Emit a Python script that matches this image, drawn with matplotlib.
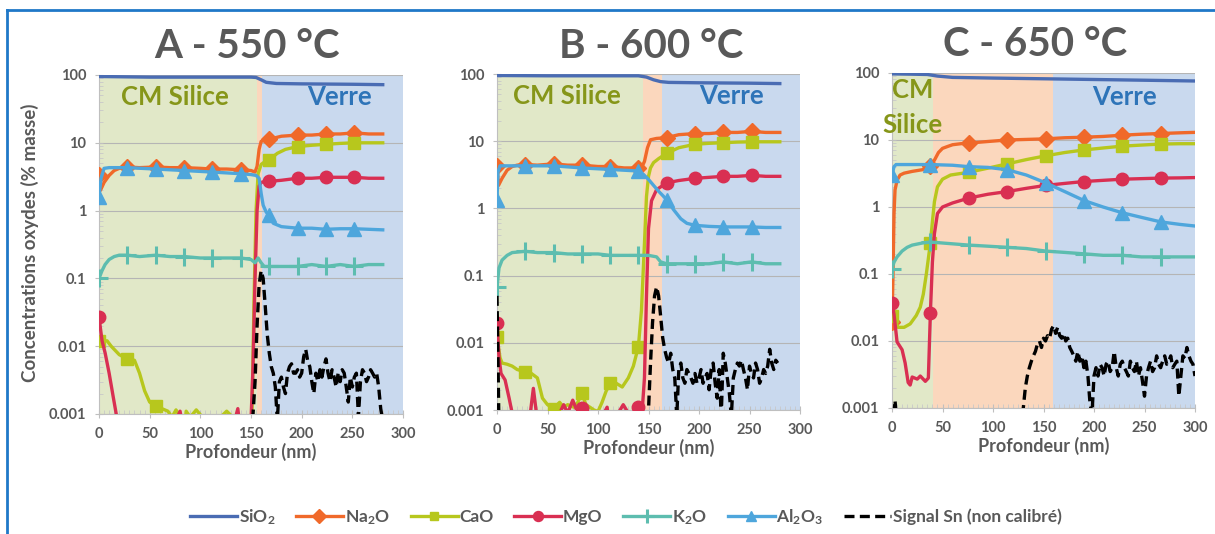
import numpy as np
import matplotlib.pyplot as plt
from matplotlib.lines import Line2D
from matplotlib.ticker import FixedLocator, LogLocator, NullFormatter, MultipleLocator

plt.rcParams['font.family'] = ['Lato', 'DejaVu Sans']
plt.rcParams['font.weight'] = 'bold'
plt.rcParams['mathtext.fontset'] = 'custom'
plt.rcParams['mathtext.rm'] = 'Lato:bold'
plt.rcParams['mathtext.bf'] = 'Lato:bold'
plt.rcParams['mathtext.default'] = 'bf'

# ---------------- data : panel A (550 °C) ----------------
a_sio2_x = [0, 50, 100, 150, 155, 160, 165, 175, 200, 250, 280]
a_sio2_y = [95, 93, 93, 93, 92, 85, 78, 75, 74, 73, 72]
a_na2o_x = [0, 1.5, 5, 10, 15, 20, 28, 40, 56, 70, 84, 100, 112, 126, 140, 150, 154, 156, 158, 160,
            164, 168, 180, 196, 210, 224, 238, 252, 266, 280]
a_na2o_y = [3.4, 2.0, 2.6, 3.3, 3.9, 4.2, 4.4, 4.3, 4.4, 4.3, 4.3, 4.2, 4.1, 4.1, 4.0, 3.9, 3.7, 4.5, 8, 10.5,
            11, 11.3, 12.5, 13, 13, 13.5, 13.5, 14, 13.5, 13.5]
a_cao_x = [0, 8, 12, 20, 28, 35, 40, 45, 50, 56, 62, 68, 72, 76, 80, 84, 86, 90, 96, 102, 108, 112, 120,
           126, 132, 138, 140, 148, 151, 153, 155, 157, 160, 164, 168, 176, 184, 196, 210, 224, 238, 252, 266, 280]
a_cao_y = [0.012, 0.012, 0.01, 0.0075, 0.0065, 0.0062, 0.004, 0.0022, 0.0015, 0.0013, 0.0012, 0.0011, 0.0009,
           0.00115, 0.0009, 0.0005, 0.0011, 0.0009, 0.00115, 0.0009, 0.0009, 0.0005, 0.0009, 0.0011, 0.0009,
           0.0009, 0.0005, 0.0009, 0.001, 0.05, 1.0, 3.5, 4.8, 5.3, 5.6, 7, 8, 8.8, 9.2, 9.5, 9.8, 10, 10, 10]
a_mgo_x = [0, 3, 6, 10, 14, 17, 20, 28, 56, 76, 80, 84, 112, 134, 137, 140, 150, 152, 154, 156, 158, 160,
           164, 168, 180, 196, 210, 224, 238, 252, 266, 280]
a_mgo_y = [0.027, 0.012, 0.008, 0.004, 0.0018, 0.001, 0.0007, 0.0005, 0.0005, 0.0008, 0.0011, 0.0005, 0.0005,
           0.0008, 0.0012, 0.0005, 0.0008, 0.005, 0.1, 1.0, 2.3, 2.6, 2.7, 2.7, 2.8, 3.0, 3.0, 3.1, 3.1, 3.1, 3.0, 3.0]
a_k2o_x = [0, 3, 6, 10, 15, 20, 28, 40, 56, 70, 84, 100, 112, 126, 140, 150, 154, 157, 160, 163, 168, 180,
           196, 210, 224, 238, 252, 266, 280]
a_k2o_y = [0.1, 0.13, 0.16, 0.19, 0.21, 0.22, 0.22, 0.21, 0.22, 0.21, 0.21, 0.2, 0.2, 0.2, 0.2, 0.19, 0.17,
           0.2, 0.17, 0.15, 0.15, 0.15, 0.15, 0.16, 0.15, 0.16, 0.15, 0.16, 0.16]
a_al2o3_x = [0, 2, 5, 10, 28, 56, 84, 112, 140, 150, 155, 158, 160, 162, 165, 168, 172, 180, 196, 210, 224,
             238, 252, 266, 280]
a_al2o3_y = [1.6, 3.0, 4.2, 4.3, 4.3, 4.1, 3.9, 3.7, 3.5, 3.4, 3.3, 3.0, 1.8, 1.2, 0.95, 0.85, 0.65, 0.58,
             0.55, 0.55, 0.53, 0.54, 0.54, 0.53, 0.52]
a_sn_x = list(range(148, 282, 2))
a_sn_y = [0.0005, 0.0008, 0.001, 0.003, 0.02, 0.08, 0.13, 0.1, 0.04, 0.015, 0.008, 0.005, 0.004, 0.0025,
          0.0008, 0.003, 0.0035, 0.0025, 0.002, 0.004, 0.005, 0.0055, 0.004, 0.004, 0.0045, 0.0035, 0.004,
          0.007, 0.009, 0.006, 0.005, 0.003, 0.002, 0.004, 0.003, 0.0045, 0.0035, 0.005, 0.0065, 0.004, 0.003,
          0.0045, 0.0035, 0.0025, 0.004, 0.003, 0.0045, 0.004, 0.0025, 0.0015, 0.0035, 0.0025, 0.0035, 0.004,
          0.0009, 0.003, 0.0045, 0.004, 0.003, 0.0035, 0.0045, 0.004, 0.0035, 0.004, 0.0025, 0.0012, 0.0008]

# ---------------- data : panel B (600 °C) ----------------
b_sio2_x = [0, 50, 100, 140, 148, 155, 162, 170, 200, 250, 280]
b_sio2_y = [95, 94, 94, 94, 90, 82, 77, 75, 74, 73, 72]
b_na2o_x = [0, 1.5, 5, 10, 15, 20, 28, 40, 56, 70, 84, 100, 112, 126, 140, 143, 146, 149, 152, 158, 168,
            180, 196, 210, 224, 238, 252, 266, 280]
b_na2o_y = [4.3, 2.2, 2.8, 3.7, 4.2, 4.4, 4.5, 4.4, 4.6, 4.4, 4.4, 4.2, 4.2, 4.0, 4.0, 4.0, 5.0, 8, 10.5, 11,
            11.3, 12.5, 13, 13, 13.5, 13.5, 14, 13.5, 13.5]
b_cao_x = [0, 3, 5, 10, 15, 20, 28, 34, 40, 45, 50, 56, 62, 66, 70, 76, 80, 84, 88, 92, 96, 100, 104, 108,
           112, 118, 124, 130, 135, 140, 143, 146, 148, 150, 152, 155, 160, 168, 180, 196, 210, 224, 238, 252,
           266, 280]
b_cao_y = [0.012, 0.006, 0.005, 0.0048, 0.0045, 0.004, 0.0037, 0.0035, 0.003, 0.0015, 0.0012, 0.00105,
           0.0013, 0.0011, 0.0012, 0.0011, 0.0013, 0.0018, 0.0012, 0.0011, 0.001, 0.00095, 0.0013, 0.0019,
           0.0025, 0.0025, 0.0022, 0.003, 0.0045, 0.0088, 0.03, 0.3, 1.5, 3, 4, 4.8, 5.5, 6.6, 8, 9, 9.3, 9.5,
           9.7, 9.8, 9.8, 9.8]
b_mgo_x = [0, 2, 4, 8, 12, 15, 28, 33, 36, 39, 56, 62, 66, 70, 75, 80, 84, 90, 100, 106, 109, 112, 120, 125,
           130, 136, 140, 144, 146, 148, 150, 153, 158, 168, 180, 196, 210, 224, 238, 252, 266, 280]
b_mgo_y = [0.02, 0.006, 0.0035, 0.0028, 0.0015, 0.0009, 0.0005, 0.0009, 0.0021, 0.0009, 0.0005, 0.0009,
           0.0012, 0.0009, 0.0014, 0.0009, 0.00107, 0.0009, 0.0009, 0.0009, 0.0011, 0.0005, 0.0009, 0.0012,
           0.0009, 0.0009, 0.0011, 0.0011, 0.003, 0.05, 0.5, 1.3, 1.9, 2.4, 2.6, 2.8, 2.9, 3.0, 3.0, 3.1, 3.0, 3.0]
b_k2o_x = [0, 2, 5, 10, 15, 28, 40, 56, 70, 84, 100, 112, 126, 140, 150, 158, 162, 168, 180, 196, 210, 224,
           238, 252, 266, 280]
b_k2o_y = [0.068, 0.13, 0.17, 0.2, 0.22, 0.23, 0.22, 0.22, 0.21, 0.21, 0.21, 0.2, 0.2, 0.2, 0.2, 0.19, 0.16,
           0.15, 0.15, 0.15, 0.15, 0.16, 0.15, 0.16, 0.15, 0.15]
b_al2o3_x = [0, 1, 3, 10, 28, 56, 84, 112, 140, 145, 150, 155, 160, 168, 175, 182, 188, 196, 210, 224, 238,
             252, 266, 280]
b_al2o3_y = [1.35, 3.5, 4.3, 4.3, 4.3, 4.3, 4.0, 3.8, 3.6, 3.2, 2.7, 2.2, 1.8, 1.35, 0.95, 0.7, 0.6, 0.56,
             0.54, 0.53, 0.53, 0.53, 0.52, 0.52]
b_sn_x = [0, 1, 2] + list(range(148, 280, 2))
b_sn_y = [0.05, 0.005, 0.0005,
          0.0005, 0.001, 0.005, 0.02, 0.05, 0.068, 0.05, 0.025, 0.012, 0.008, 0.006, 0.005, 0.007, 0.004,
          0.003, 0.0008, 0.004, 0.005, 0.003, 0.0025, 0.004, 0.0035, 0.003, 0.0025, 0.0035, 0.0025, 0.003,
          0.004, 0.0025, 0.003, 0.0035, 0.002, 0.004, 0.005, 0.0025, 0.0015, 0.004, 0.0008, 0.007, 0.005,
          0.003, 0.0018, 0.0008, 0.003, 0.004, 0.005, 0.0045, 0.0055, 0.004, 0.003, 0.002, 0.0045, 0.0035,
          0.003, 0.005, 0.004, 0.0025, 0.003, 0.004, 0.0035, 0.0045, 0.008, 0.005, 0.004, 0.0055, 0.005]

# ---------------- data : panel C (650 °C) ----------------
c_sio2_x = [0, 20, 35, 45, 60, 100, 150, 200, 250, 300]
c_sio2_y = [97, 96, 95, 90, 86, 84, 82, 80, 78, 76]
c_na2o_x = [0, 1, 2, 3, 5, 8, 12, 20, 30, 38, 42, 46, 50, 55, 60, 68, 76, 95, 114, 133, 152, 171, 190, 209,
            228, 247, 266, 285, 300]
c_na2o_y = [0.019, 0.1, 0.8, 1.8, 2.5, 3.0, 3.2, 3.4, 3.6, 4.1, 5, 6.5, 7.5, 8, 8.5, 8.8, 9.0, 9.5, 10, 10.2,
            10.4, 10.8, 11, 11.3, 11.8, 12.2, 12.5, 12.8, 13]
c_cao_x = [0, 3, 6, 12, 18, 24, 28, 31, 34, 38, 40, 42, 45, 50, 58, 76, 95, 114, 133, 152, 171, 190, 209,
           228, 247, 266, 285, 300]
c_cao_y = [0.024, 0.02, 0.016, 0.016, 0.018, 0.024, 0.032, 0.05, 0.1, 0.29, 0.6, 1.2, 2.0, 2.6, 3.0, 3.3,
           3.8, 4.4, 5.1, 5.8, 6.5, 7.1, 7.6, 8.1, 8.4, 8.7, 8.8, 8.8]
c_mgo_x = [0, 2, 5, 10, 13, 16, 18, 20, 25, 28, 33, 36, 38, 40, 42, 45, 50, 60, 76, 95, 114, 133, 152, 171,
           190, 209, 228, 247, 266, 285, 300]
c_mgo_y = [0.037, 0.025, 0.0097, 0.0074, 0.0047, 0.0024, 0.0022, 0.0029, 0.0027, 0.003, 0.0025, 0.0028,
           0.026, 0.15, 0.4, 0.8, 1.0, 1.15, 1.36, 1.55, 1.7, 1.9, 2.1, 2.25, 2.4, 2.5, 2.6, 2.65, 2.7, 2.72, 2.75]
c_k2o_x = [0, 2, 5, 10, 15, 20, 30, 38, 50, 76, 95, 114, 133, 152, 171, 190, 209, 228, 247, 266, 285, 300]
c_k2o_y = [0.12, 0.15, 0.18, 0.22, 0.25, 0.27, 0.29, 0.3, 0.29, 0.27, 0.26, 0.25, 0.24, 0.22, 0.21, 0.2,
           0.19, 0.19, 0.18, 0.18, 0.18, 0.18]
c_al2o3_x = [0, 2, 4, 10, 20, 38, 60, 76, 95, 114, 133, 152, 171, 190, 209, 228, 247, 266, 285, 300]
c_al2o3_y = [3.0, 4.0, 4.3, 4.3, 4.3, 4.3, 4.2, 4.0, 3.9, 3.6, 3.0, 2.3, 1.7, 1.25, 1.0, 0.82, 0.7, 0.6,
             0.55, 0.52]
c_sn_x = [2, 3, 4] + list(range(128, 302, 2))
c_sn_y = [0.0008, 0.0013, 0.0008,
          0.0008, 0.001, 0.002, 0.003, 0.004, 0.005, 0.006, 0.007, 0.009, 0.01, 0.008, 0.011, 0.01, 0.012,
          0.011, 0.015, 0.017, 0.013, 0.016, 0.012, 0.011, 0.013, 0.01, 0.011, 0.008, 0.007, 0.006, 0.005,
          0.007, 0.005, 0.006, 0.004, 0.005, 0.003, 0.0012, 0.0008, 0.003, 0.004, 0.003, 0.0045, 0.004, 0.003,
          0.0045, 0.005, 0.0035, 0.004, 0.007, 0.004, 0.003, 0.0045, 0.005, 0.004, 0.0035, 0.003, 0.005,
          0.004, 0.0035, 0.005, 0.003, 0.004, 0.0025, 0.0015, 0.003, 0.004, 0.005, 0.0035, 0.004, 0.006,
          0.0045, 0.004, 0.005, 0.006, 0.0045, 0.005, 0.006, 0.004, 0.0045, 0.005, 0.0015, 0.003, 0.006,
          0.0055, 0.008, 0.006, 0.005, 0.0045, 0.003]

titles = ["A - 550 °C", "B - 600 °C", "C - 650 °C"]
marks_a = [0, 28, 56, 84, 112, 140, 168, 196, 224, 252]
marks_b = [0, 28, 56, 84, 112, 140, 168, 196, 224, 252]
marks_c = [0, 38, 76, 114, 152, 190, 228, 266]
# zone limits: end of "CM Silice", end of interface
zones_a = [156, 161]
zones_b = [144.5, 163]
zones_c = [41, 159]
ytick_vals = [0.001, 0.01, 0.1, 1, 10, 100]
ytick_lbls = ["0.001", "0.01", "0.1", "1", "10", "100"]
series_labels = ["SiO$_2$", "Na$_2$O", "CaO", "MgO", "K$_2$O", "Al$_2$O$_3$", "Signal Sn (non calibré)"]

# ---------------- styles ----------------
styles = [
    dict(color="#4a6cb3", marker=None),
    dict(color="#f0692a", marker="D", ms=8.5),
    dict(color="#b7c71d", marker="s", ms=8),
    dict(color="#d92f52", marker="o", ms=9),
    dict(color="#5dbdaf", marker="+", ms=13, mew=2.2),
    dict(color="#4ea6dc", marker="^", ms=9.5),
]
GRAY = "#595959"
BG_GREEN, BG_ORANGE, BG_BLUE = "#e1e8c8", "#fbd7bd", "#c9d9ee"

panels = [
    dict(title=titles[0], marks=marks_a, zones=zones_a,
         series=[(a_sio2_x, a_sio2_y), (a_na2o_x, a_na2o_y), (a_cao_x, a_cao_y), (a_mgo_x, a_mgo_y),
                 (a_k2o_x, a_k2o_y), (a_al2o3_x, a_al2o3_y)], sn=(a_sn_x, a_sn_y),
         rect=[99 / 1215, 1 - 414 / 534, 304 / 1215, 339 / 534], tpos=(247, 47)),
    dict(title=titles[1], marks=marks_b, zones=zones_b,
         series=[(b_sio2_x, b_sio2_y), (b_na2o_x, b_na2o_y), (b_cao_x, b_cao_y), (b_mgo_x, b_mgo_y),
                 (b_k2o_x, b_k2o_y), (b_al2o3_x, b_al2o3_y)], sn=(b_sn_x, b_sn_y),
         rect=[497 / 1215, 1 - 410 / 534, 303 / 1215, 336 / 534], tpos=(651, 47)),
    dict(title=titles[2], marks=marks_c, zones=zones_c,
         series=[(c_sio2_x, c_sio2_y), (c_na2o_x, c_na2o_y), (c_cao_x, c_cao_y), (c_mgo_x, c_mgo_y),
                 (c_k2o_x, c_k2o_y), (c_al2o3_x, c_al2o3_y)], sn=(c_sn_x, c_sn_y),
         rect=[892 / 1215, 1 - 408 / 534, 303 / 1215, 335 / 534], tpos=(1035, 44)),
]

fig = plt.figure(figsize=(12.15, 5.34), dpi=100)

handles = []
for k, p in enumerate(panels):
    ax = fig.add_axes(p["rect"])
    z1, z2 = p["zones"]
    ax.axvspan(0, z1, color=BG_GREEN, zorder=0, lw=0)
    ax.axvspan(z1, z2, color=BG_ORANGE, zorder=0, lw=0)
    ax.axvspan(z2, 300, color=BG_BLUE, zorder=0, lw=0)

    for (xs, ys), st in zip(p["series"], styles):
        xs = np.asarray(xs, dtype=float)
        kw = dict(color=st["color"], lw=2.4, zorder=3)
        if st["marker"]:
            idx = [i for i, v in enumerate(xs) if v in p["marks"]]
            kw.update(marker=st["marker"], ms=st["ms"], markevery=idx,
                      mew=st.get("mew", 1), mec=st["color"], mfc=st["color"])
        ln, = ax.plot(xs, ys, **kw)
        if k == 0:
            handles.append(ln)
    sx, sy = p["sn"]
    sn_ln, = ax.plot(sx, sy, color="black", lw=2.4, ls=(0, (3, 1.6)), zorder=4)
    if k == 0:
        handles.append(sn_ln)

    ax.set_yscale("log")
    ax.set_ylim(0.001, 100)
    ax.set_xlim(0, 300)
    ax.yaxis.set_major_locator(FixedLocator(ytick_vals))
    ax.set_yticklabels(ytick_lbls)
    ax.yaxis.set_minor_locator(LogLocator(base=10, subs=np.arange(2, 10)))
    ax.yaxis.set_minor_formatter(NullFormatter())
    ax.xaxis.set_major_locator(MultipleLocator(50))
    ax.xaxis.set_minor_locator(MultipleLocator(5))
    ax.tick_params(which="major", direction="inout", length=6, color="#bfbfbf",
                   labelcolor=GRAY, labelsize=10.5, pad=6)
    ax.tick_params(which="minor", direction="in", length=3, color="#c8c8c8")
    ax.yaxis.grid(True, which="major", color="#b5b5b5", lw=0.8)
    ax.set_axisbelow(True)
    for s in ("top", "right"):
        ax.spines[s].set_visible(False)
    for s in ("left", "bottom"):
        ax.spines[s].set_color("#bfbfbf")
    for lbl in ax.get_xticklabels() + ax.get_yticklabels():
        lbl.set_fontweight("bold")
    ax.set_xlabel("Profondeur (nm)", fontsize=13, color=GRAY, fontweight="bold", labelpad=2)

    fig.text(p["tpos"][0] / 1215, 1 - p["tpos"][1] / 534, p["title"], ha="center", va="center",
             fontsize=29, color=GRAY, fontweight="bold")

    if k < 2:
        cx = 75 if k == 0 else 69
        ax.text(cx, 47, "CM Silice", ha="center", va="center", fontsize=18.5,
                color="#869619", fontweight="bold", zorder=5)
        ax.text(237 if k == 0 else 232, 47, "Verre", ha="center", va="center", fontsize=18.5,
                color="#2e74b8", fontweight="bold", zorder=5)
    else:
        ax.text(20, 55, "CM", ha="center", va="center", fontsize=18.5,
                color="#869619", fontweight="bold", zorder=5)
        ax.text(20, 16.5, "Silice", ha="center", va="center", fontsize=18.5,
                color="#869619", fontweight="bold", zorder=5)
        ax.text(230, 44, "Verre", ha="center", va="center", fontsize=18.5,
                color="#2e74b8", fontweight="bold", zorder=5)

fig.text(30 / 1215, 1 - 243 / 534, "Concentrations oxydes (% masse)", rotation=90,
         ha="center", va="center", fontsize=13.5, color=GRAY, fontweight="bold")

leg = fig.legend(handles, series_labels, loc="center", bbox_to_anchor=(0.515, 1 - 517 / 534),
                 ncol=7, frameon=False, handlelength=2.7, handletextpad=0.1, columnspacing=1.2,
                 prop=dict(size=12.5, weight="bold"), markerscale=0.8)
for t in leg.get_texts():
    t.set_color(GRAY)

# blue frame (top and left edge)
fig.add_artist(Line2D([7 / 1215, 1], [1 - 10 / 534, 1 - 10 / 534], transform=fig.transFigure,
                      color="#1f78c8", lw=2))
fig.add_artist(Line2D([7 / 1215, 7 / 1215], [0, 1 - 10 / 534], transform=fig.transFigure,
                      color="#1f78c8", lw=2))

fig.savefig("out.png", dpi=100)
